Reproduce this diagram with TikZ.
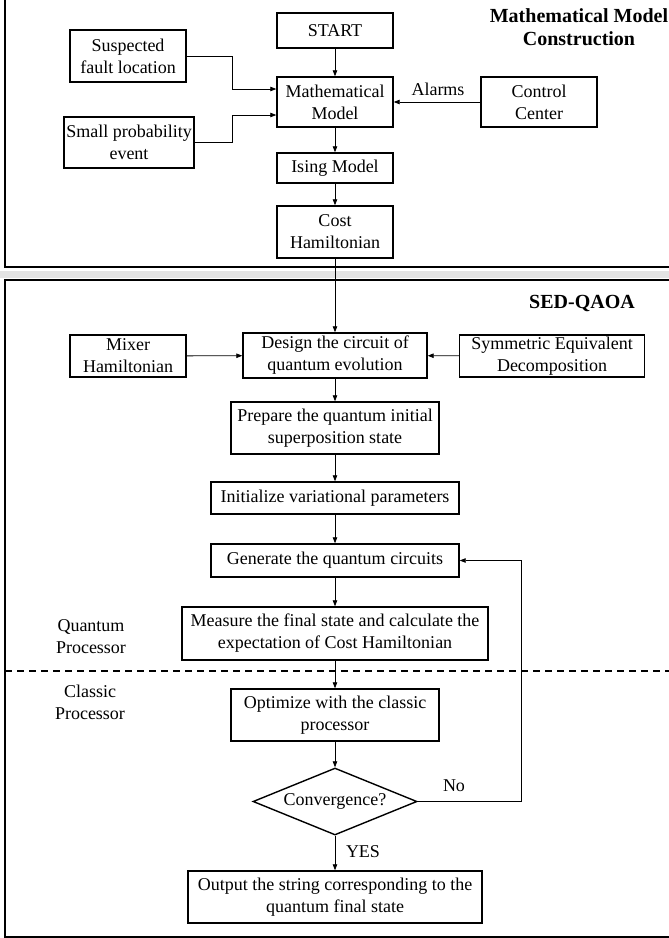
\documentclass[tikz,border=0pt]{standalone}
\usepackage{fontspec}
\setmainfont{Liberation Serif}
\usetikzlibrary{arrows.meta,shapes.geometric,calc}
\newcommand\bodyfont{\fontsize{18}{22}\selectfont}
\newcommand\titlefont{\fontsize{20}{23}\selectfont\bfseries}
\tikzset{
  box/.style={draw, line width=1.4pt, align=center, inner sep=0pt, font=\bodyfont},
  sz/.style 2 args={minimum width=#1, minimum height=#2},
  lbl/.style={align=center, inner sep=0pt, font=\bodyfont},
  ttl/.style={align=center, inner sep=0pt, font=\titlefont},
  arr/.style={-{Triangle[length=6pt,width=4.5pt]}, line width=0.8pt},
  frameline/.style={line width=1.5pt},
}
\begin{document}
\begin{tikzpicture}[x=1pt,y=-1pt]
\useasboundingbox (0,0) rectangle (669,938);
% frames
\fill[gray!22] (0,271) rectangle (669,278);
\draw[frameline] (5,0) -- (5,267) -- (669,267);
\draw[frameline] (669,280) -- (5,280) -- (5,937) -- (669,937);
\draw[line width=1.4pt, dash pattern=on 7pt off 5pt] (5,671) -- (669,671);
% titles
\node[ttl] (t1) at (579,27) {Mathematical Model\\Construction};
\node[ttl] (t2) at (582,303) {SED-QAOA};
% top section
\node[box, sz={116pt}{35pt}] (start) at (335,30.5) {START};
\node[box, sz={116pt}{52pt}] (sus) at (128,56) {Suspected\\fault location};
\node[box, sz={116pt}{50pt}] (math) at (335,102) {Mathematical\\Model};
\node[box, sz={116pt}{50pt}] (ctrl) at (539,102) {Control\\Center};
\node[box, sz={130pt}{51pt}] (sp) at (129,142.5) {Small probability\\event};
\node[box, sz={116pt}{30pt}] (ising) at (335,168) {Ising Model};
\node[box, sz={116pt}{52pt}] (cost) at (335,232) {Cost\\Hamiltonian};
\node[lbl] (alarms) at (438,89) {Alarms};
% second section
\node[box, sz={116pt}{42pt}] (mixer) at (128,356) {Mixer\\Hamiltonian};
\node[box, sz={184pt}{45pt}] (design) at (335,355.5) {Design the circuit of\\quantum evolution};
\node[box, sz={185pt}{42pt}] (sym) at (552,356) {Symmetric Equivalent\\Decomposition};
\node[box, sz={208pt}{52pt}] (prep) at (335,428) {Prepare the quantum initial\\superposition state};
\node[box, sz={248pt}{32pt}] (init) at (335,498) {Initialize variational parameters};
\node[box, sz={248pt}{33pt}] (gen) at (335,560.5) {Generate the quantum circuits};
\node[box, sz={306pt}{53pt}] (meas) at (335,633.5) {Measure the final state and calculate the\\expectation of Cost Hamiltonian};
\node[box, sz={208pt}{52pt}] (opt) at (335,715) {Optimize with the classic\\processor};
\node[draw, line width=1.4pt, diamond, inner sep=0pt, aspect=2.45, sz={164pt}{67pt}, font=\bodyfont] (conv) at (335,801.5) {Convergence?};
\node[box, sz={294pt}{52pt}] (out) at (335,897) {Output the string corresponding to the\\quantum final state};
\node[lbl] (qp) at (91,636.5) {Quantum\\Processor};
\node[lbl] (cp) at (90,702) {Classic\\Processor};
\node[lbl] (no) at (454,786) {No};
\node[lbl] (yes) at (363,852) {YES};
\coordinate (jx) at (232,0);
\coordinate (fbx) at (521,0);
\coordinate (min1) at ($(math.west)+(0,-13)$);
\coordinate (min2) at ($(math.west)+(0,13)$);
% connectors
\draw[arr] (start) -- (math);
\draw[arr] (sus.east) -- (sus.east -| jx) -- (min1 -| jx) -- (min1);
\draw[arr] (sp.east) -- (sp.east -| jx) -- (min2 -| jx) -- (min2);
\draw[arr] (ctrl) -- (math);
\draw[arr] (math) -- (ising);
\draw[arr] (ising) -- (cost);
\draw[arr] (cost) -- (design);
\draw[arr] (mixer) -- (design);
\draw[arr] (sym) -- (design);
\draw[arr] (design) -- (prep);
\draw[arr] (prep) -- (init);
\draw[arr] (init) -- (gen);
\draw[arr] (gen) -- (meas);
\draw[arr] (meas) -- (opt);
\draw[arr] (opt) -- (conv);
\draw[arr] (conv) -- (out);
\draw[arr] (conv.east) -- (conv.east -| fbx) -- (gen.east -| fbx) -- (gen.east);
\end{tikzpicture}
\end{document}
